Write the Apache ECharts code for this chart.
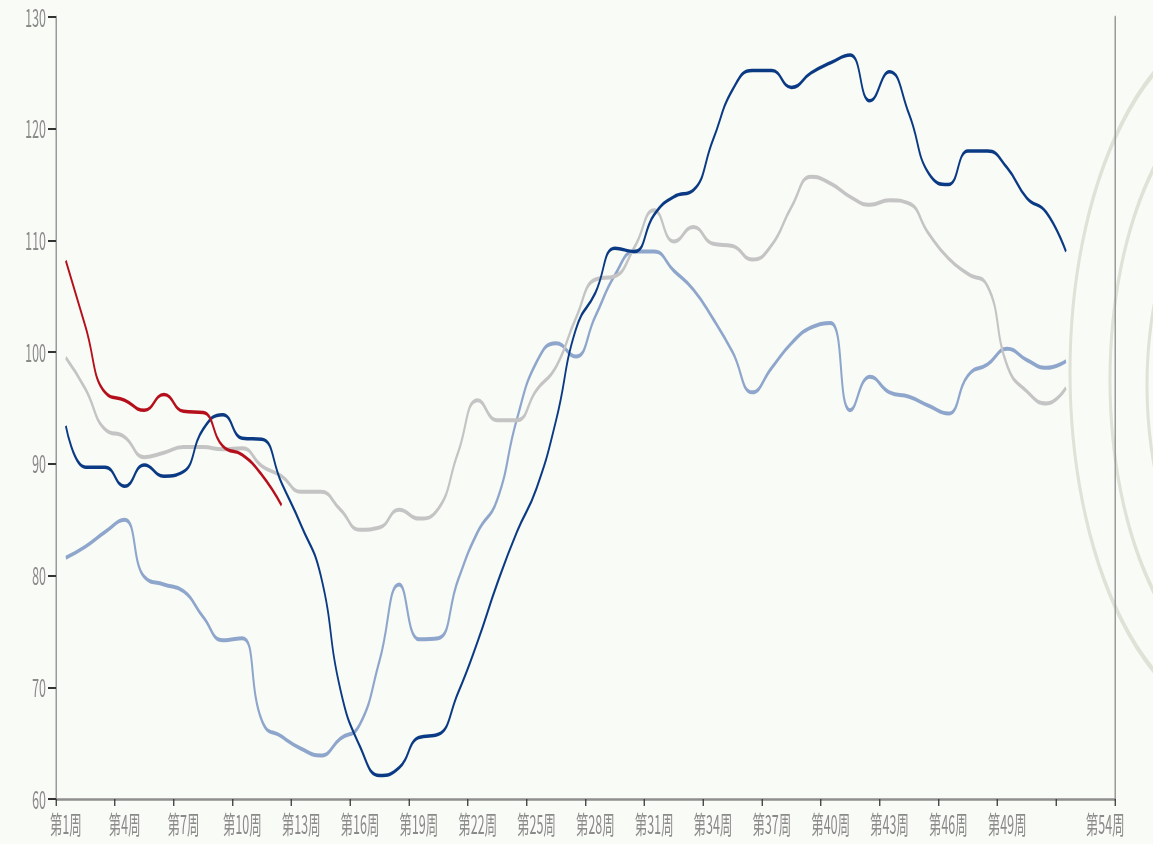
<!DOCTYPE html>
<html>
<head>
<meta charset="utf-8">
<script src="https://cdn.jsdelivr.net/npm/echarts@6/dist/echarts.min.js"></script>
<style>
  html, body { margin: 0; padding: 0; width: 1153px; height: 844px; overflow: hidden; background: #f9fbf6; }
  #wrap { width: 1153px; height: 844px; overflow: hidden; position: relative; }
  #chart { width: 2306px; height: 844px; transform: scaleX(0.5); transform-origin: 0 0; position: absolute; left: 0; top: 0; }
</style>
</head>
<body>
<div id="wrap"><div id="chart"></div></div>
<script>
const weeks = ['第1周','第2周','第3周','第4周','第5周','第6周','第7周','第8周','第9周','第10周',
  '第11周','第12周','第13周','第14周','第15周','第16周','第17周','第18周','第19周','第20周',
  '第21周','第22周','第23周','第24周','第25周','第26周','第27周','第28周','第29周','第30周',
  '第31周','第32周','第33周','第34周','第35周','第36周','第37周','第38周','第39周','第40周',
  '第41周','第42周','第43周','第44周','第45周','第46周','第47周','第48周','第49周','第50周',
  '第51周','第52周','第53周','第54周'];

const yTicks = [60, 70, 80, 90, 100, 110, 120, 130];

const seriesLightBlue = [81.6, 82.6, 83.9, 85.0, 79.9, 79.2, 78.6, 76.3, 74.2, 74.4,
  67.0, 65.6, 64.5, 63.9, 65.4, 66.7, 72.4, 79.2, 74.3, 74.4,
  79.6, 83.9, 86.8, 94.0, 99.1, 100.8, 99.6, 103.2, 106.9, 109.0,
  109.0, 107.3, 105.6, 103.0, 100.0, 96.4, 98.6, 100.8, 102.2, 102.6,
  94.8, 97.8, 96.4, 96.0, 95.2, 94.5, 97.9, 98.9, 100.3, 99.3,
  98.6, 99.2];

const seriesGrey = [99.5, 96.7, 93.1, 92.4, 90.6, 91.0, 91.5, 91.5, 91.3, 91.4,
  89.8, 88.9, 87.5, 87.5, 85.9, 84.1, 84.3, 85.9, 85.1, 86.0,
  91.0, 95.7, 93.9, 93.9, 96.6, 98.7, 103.0, 106.5, 106.8, 109.4,
  112.7, 109.9, 111.2, 109.7, 109.5, 108.3, 109.6, 113.0, 115.7, 115.1,
  113.9, 113.2, 113.6, 113.3, 110.6, 108.4, 107.0, 105.9, 98.8, 96.5,
  95.4, 96.8];

const seriesDarkBlue = [93.4, 89.7, 89.7, 88.0, 89.9, 88.9, 89.3, 93.1, 94.4, 92.3,
  92.2, 88.3, 84.5, 80.0, 69.8, 64.7, 62.1, 62.8, 65.5, 65.8,
  69.5, 74.1, 79.3, 83.9, 87.8, 93.9, 102.0, 105.3, 109.3, 109.0,
  112.3, 113.9, 114.5, 119.0, 123.5, 125.2, 125.2, 123.7, 125.0, 125.9,
  126.6, 122.5, 125.1, 121.3, 116.0, 115.0, 118.0, 118.0, 116.5, 113.8,
  112.5, 109.0];

const seriesRed = [108.2, 102.3, 96.4, 95.7, 94.8, 96.2, 94.7, 94.6, 91.6, 90.8, 89.0, 86.3];

const chart = echarts.init(document.getElementById('chart'), null, { renderer: 'canvas' });

const labelStyle = { color: '#8a8a8a', fontSize: 25, fontFamily: '"Noto Sans CJK SC", "Noto Sans", sans-serif' };

function lineSeries(name, data, color, width) {
  return {
    name: name, type: 'line', data: data, smooth: 0.5, symbol: 'none',
    lineStyle: { color: color, width: width }, z: 3
  };
}

const ringStyle = { fill: 'transparent', stroke: '#dfe2d6', lineWidth: 6 };

chart.setOption({
  backgroundColor: '#f9fbf6',
  animation: false,
  grid: { left: 112, right: 76, top: 17, bottom: 45 },
  graphic: [
    { type: 'circle', silent: true, z: -10, shape: { cx: 2490, cy: 372, r: 350 }, style: ringStyle },
    { type: 'circle', silent: true, z: -10, shape: { cx: 2520, cy: 380, r: 300 }, style: ringStyle },
    { type: 'circle', silent: true, z: -10, shape: { cx: 2526, cy: 385, r: 232 }, style: ringStyle }
  ],
  xAxis: {
    type: 'category', data: weeks, boundaryGap: true,
    axisLine: { lineStyle: { color: '#8f8f8f', width: 2.5 } },
    axisTick: { show: true, interval: 2, length: 7, lineStyle: { color: '#333', width: 2.5 } },
    axisLabel: Object.assign({
      margin: 13,
      interval: function (i) { return (i % 3 === 0 && i <= 48) || i === weeks.length - 1; }
    }, labelStyle),
    splitLine: { show: false }
  },
  yAxis: [{
    type: 'value', min: yTicks[0], max: yTicks[yTicks.length - 1], interval: 10,
    axisLine: { show: true, lineStyle: { color: '#9a9a9a', width: 3 } },
    axisTick: { show: true, length: 16, lineStyle: { color: '#333', width: 2 } },
    axisLabel: Object.assign({ margin: 20 }, labelStyle),
    splitLine: { show: false }
  }, {
    type: 'value', position: 'right', min: yTicks[0], max: yTicks[yTicks.length - 1], interval: 10,
    axisLine: { show: true, lineStyle: { color: '#9a9a9a', width: 3 } },
    axisTick: { show: false }, axisLabel: { show: false }, splitLine: { show: false }
  }],
  series: [
    lineSeries('浅蓝', seriesLightBlue, '#8fa6cc', 4),
    lineSeries('灰色', seriesGrey, '#c4c4c4', 4),
    lineSeries('深蓝', seriesDarkBlue, '#0b3a84', 3.5),
    lineSeries('红色', seriesRed, '#b50f1c', 3.5)
  ]
});
</script>
</body>
</html>
